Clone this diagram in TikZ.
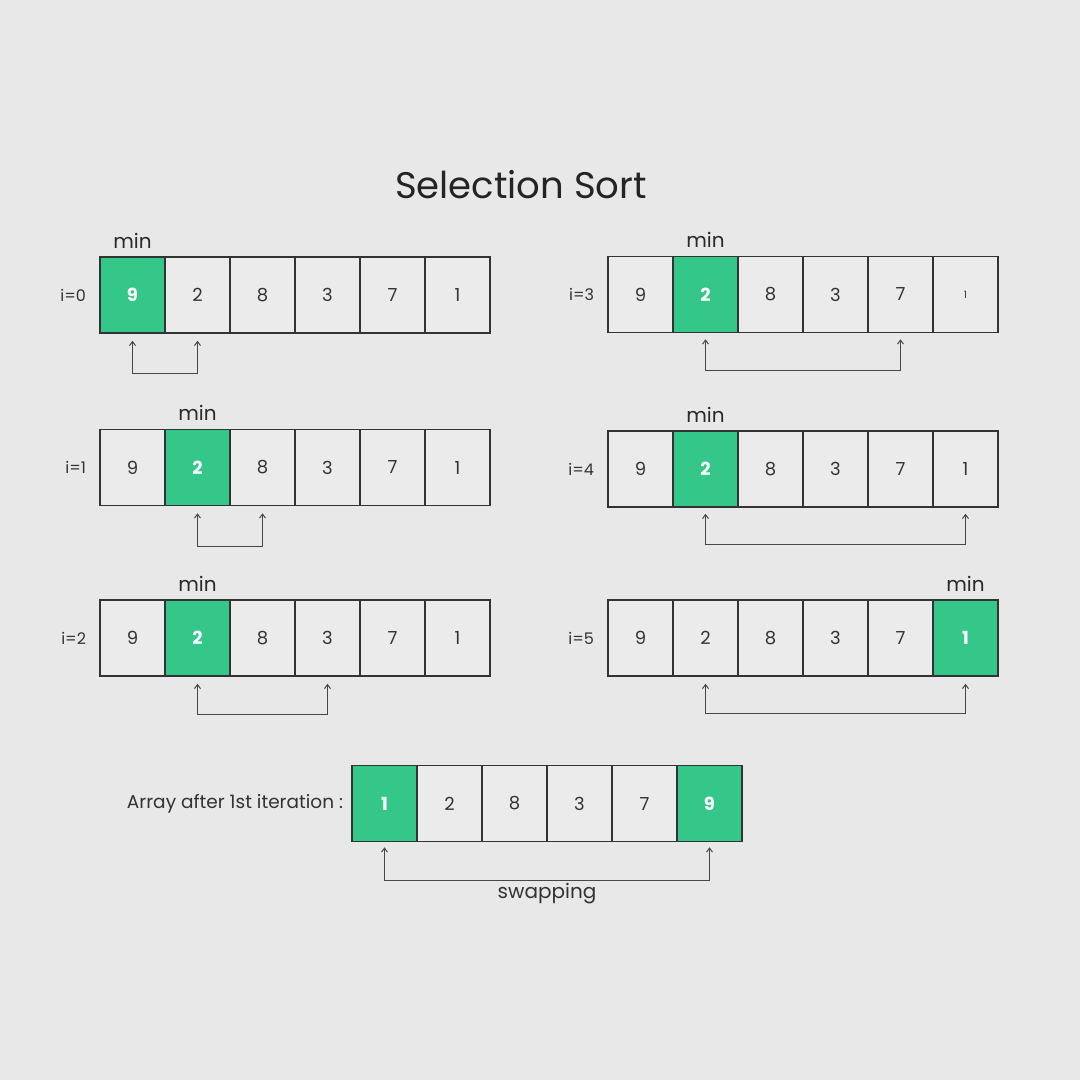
\documentclass[tikz,border=0pt]{standalone}
\usepackage{fontspec}
\setmainfont{Poppins}
\usetikzlibrary{arrows.meta}
\definecolor{bg}{HTML}{E8E8E8}
\definecolor{cellbg}{HTML}{EBEBEB}
\definecolor{grn}{HTML}{35C78A}
\definecolor{ink}{HTML}{333333}
\newcommand\drawarr[6]{%
  \foreach \v [count=\k] in {#4} {%
    \ifnum\k=#5 \def\st{gcell}\else\ifnum\k=#6 \def\st{gcell}\else\def\st{cell}\fi\fi
    \node[\st] (#1-\k) at ({#2+65*(\k-0.5)},#3) {\v};
  }}
\begin{document}
\begin{tikzpicture}[x=1pt,y=-1pt,
  cell/.style={draw=ink, line width=1.6pt, fill=cellbg, minimum width=65pt, minimum height=76pt, inner sep=0pt, text=ink, font=\fontsize{18}{18}\selectfont},
  gcell/.style={cell, fill=grn, text=white, font=\fontsize{18}{18}\selectfont\bfseries},
  lab/.style={text=ink, font=\fontsize{16}{16}\selectfont, inner sep=0pt},
  minlab/.style={text=ink!80!black, font=\fontsize{20}{20}\selectfont, inner sep=0pt, anchor=base},
  arr/.style={draw=ink!90, line width=1pt, {Straight Barb[length=4pt,width=6pt]}-{Straight Barb[length=4pt,width=6pt]}}
]
\fill[bg] (0,0) rectangle (1080,1080);
\useasboundingbox (0,0) rectangle (1080,1080);

\node[text=ink!70!black, font=\fontsize{37}{37}\selectfont, inner sep=0pt] (title) at (521,185) {Selection Sort};

% arrays
\drawarr{a0}{100}{295}{9,2,8,3,7,1}{1}{0}
\drawarr{a1}{100}{467.5}{9,2,8,3,7,1}{2}{0}
\drawarr{a2}{100}{638}{9,2,8,3,7,1}{2}{0}
\drawarr{a3}{608}{294.5}{9,2,8,3,7,{\fontsize{10}{10}\selectfont 1}}{2}{0}
\drawarr{a4}{608}{469}{9,2,8,3,7,1}{2}{0}
\drawarr{a5}{608}{638}{9,2,8,3,7,1}{6}{0}
\drawarr{b}{352}{803.5}{1,2,8,3,7,9}{1}{6}

% row labels
\node[lab, anchor=east] (l0) at ([xshift=-13]a0-1.west) {i=0};
\node[lab, anchor=east] (l1) at ([xshift=-13]a1-1.west) {i=1};
\node[lab, anchor=east] (l2) at ([xshift=-13]a2-1.west) {i=2};
\node[lab, anchor=east] (l3) at ([xshift=-13]a3-1.west) {i=3};
\node[lab, anchor=east] (l4) at ([xshift=-13]a4-1.west) {i=4};
\node[lab, anchor=east] (l5) at ([xshift=-13]a5-1.west) {i=5};
\node[lab, anchor=east, font=\fontsize{18.5}{18.5}\selectfont] (lb) at ([xshift=-8]b-1.west) {Array after 1st iteration :};

% min labels
\node[minlab] (m0) at ([yshift=8]a0-1.north) {min};
\node[minlab] (m1) at ([yshift=8]a1-2.north) {min};
\node[minlab] (m2) at ([yshift=8]a2-2.north) {min};
\node[minlab] (m3) at ([yshift=8]a3-2.north) {min};
\node[minlab] (m4) at ([yshift=8]a4-2.north) {min};
\node[minlab] (m5) at ([yshift=8]a5-6.north) {min};

% comparison arrows
\draw[arr] ([yshift=-7]a0-1.south) -- ++(0,33) -| ([yshift=-7]a0-2.south);
\draw[arr] ([yshift=-7]a1-2.south) -- ++(0,33) -| ([yshift=-7]a1-3.south);
\draw[arr] ([yshift=-7]a2-2.south) -- ++(0,31) -| ([yshift=-7]a2-4.south);
\draw[arr] ([yshift=-6]a3-2.south) -- ++(0,31) -| ([yshift=-6]a3-5.south);
\draw[arr] ([yshift=-6]a4-2.south) -- ++(0,31) -| ([yshift=-6]a4-6.south);
\draw[arr] ([yshift=-7]a5-2.south) -- ++(0,30) -| ([yshift=-7]a5-6.south);
\draw[arr] ([yshift=-5]b-1.south) -- ++(0,33) -| ([yshift=-5]b-6.south)
  node[pos=0.25, below=2pt, lab, font=\fontsize{20}{20}\selectfont] (sw) {swapping};
\end{tikzpicture}
\end{document}
